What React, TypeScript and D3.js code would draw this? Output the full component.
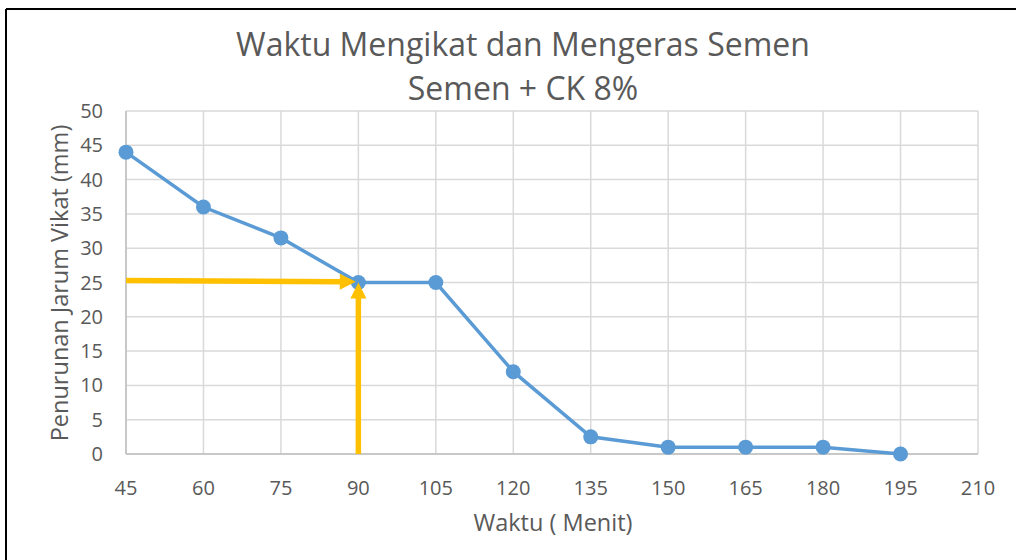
import React from "react";
import * as d3 from "d3";

const xTicks = [45, 60, 75, 90, 105, 120, 135, 150, 165, 180, 195, 210];
const yTicks = [0, 5, 10, 15, 20, 25, 30, 35, 40, 45, 50];
const times = [45, 60, 75, 90, 105, 120, 135, 150, 165, 180, 195];
const penetration = [44, 36, 31.5, 25, 25, 12, 2.5, 1, 1, 1, 0];
const hArrow = { from: [45, 25.3], to: [89.5, 25.1] };
const vArrow = { from: [90, 0], to: [90, 25] };
const titleLines = ["Waktu Mengikat dan Mengeras Semen", "Semen + CK 8%"];
const xTitle = "Waktu ( Menit)";
const yTitle = "Penurunan Jarum Vikat (mm)";

const W = 1016, H = 560;
const FONT = "'Open Sans', 'Noto Sans', sans-serif";

export default function App() {
  const x = d3.scaleLinear().domain([45, 210]).range([126, 978]);
  const y = d3.scaleLinear().domain([0, 50]).range([454, 111]);
  const line = d3.line<number>().x((_, i) => x(times[i])).y((d) => y(d));
  const yellow = "#FFC000";
  const blue = "#5B9BD5";

  const arrow = (fx: number, fy: number, tx: number, ty: number, key: string) => {
    const x1 = x(fx), y1 = y(fy), x2 = x(tx), y2 = y(ty);
    const ang = Math.atan2(y2 - y1, x2 - x1);
    const len = 16, hw = 8;
    const bx = x2 - len * Math.cos(ang), by = y2 - len * Math.sin(ang);
    const px = -Math.sin(ang), py = Math.cos(ang);
    const pts = [
      [x2, y2],
      [bx + px * hw, by + py * hw],
      [bx - px * hw, by - py * hw],
    ];
    return (
      <g key={key}>
        <line x1={x1} y1={y1} x2={bx + 1 * Math.cos(ang)} y2={by + 1 * Math.sin(ang)} stroke={yellow} strokeWidth={5.5} />
        <polygon points={pts.map((p) => p.join(",")).join(" ")} fill={yellow} />
      </g>
    );
  };

  return (
    <svg width={W} height={H} style={{ position: "absolute", left: 0, top: 0, background: "#fff" }} fontFamily={FONT}>
      <rect x={0} y={0} width={W} height={H} fill="#fff" />
      <line x1={6} y1={9} x2={W} y2={9} stroke="#000" strokeWidth={2} />
      <line x1={6} y1={9} x2={6} y2={H} stroke="#000" strokeWidth={2} />
      <g stroke="#D9D9D9" strokeWidth={1.5}>
        {xTicks.map((t) => (
          <line key={"gx" + t} x1={x(t)} x2={x(t)} y1={y(50)} y2={y(0)} />
        ))}
        {yTicks.map((t) => (
          <line key={"gy" + t} x1={x(45)} x2={x(210)} y1={y(t)} y2={y(t)} />
        ))}
      </g>
      <line x1={x(45)} x2={x(210)} y1={y(0)} y2={y(0)} stroke="#BFBFBF" strokeWidth={1.5} />
      <line x1={x(45)} x2={x(45)} y1={y(0)} y2={y(50)} stroke="#BFBFBF" strokeWidth={1.5} />
      <g fill="#595959" fontSize={20}>
        {xTicks.map((t) => (
          <text key={"tx" + t} x={x(t)} y={y(0) + 41} textAnchor="middle">{t}</text>
        ))}
        {yTicks.map((t) => (
          <text key={"ty" + t} x={x(45) - 23} y={y(t) + 7} textAnchor="end">{t}</text>
        ))}
      </g>
      <path d={line(penetration) || ""} fill="none" stroke={blue} strokeWidth={3.5} />
      {penetration.map((v, i) => (
        <circle key={"p" + i} cx={x(times[i])} cy={y(v)} r={7.5} fill={blue} />
      ))}
      {arrow(hArrow.from[0], hArrow.from[1], hArrow.to[0], hArrow.to[1], "h")}
      {arrow(vArrow.from[0], vArrow.from[1], vArrow.to[0], vArrow.to[1], "v")}
      <g fill="#595959" textAnchor="middle">
        <text x={523} y={56} fontSize={32}>{titleLines[0]}</text>
        <text x={523} y={100} fontSize={32}>{titleLines[1]}</text>
        <text x={553} y={531} fontSize={23.5}>{xTitle}</text>
        <text transform={`translate(68,283) rotate(-90)`} fontSize={23.5}>{yTitle}</text>
      </g>
    </svg>
  );
}
